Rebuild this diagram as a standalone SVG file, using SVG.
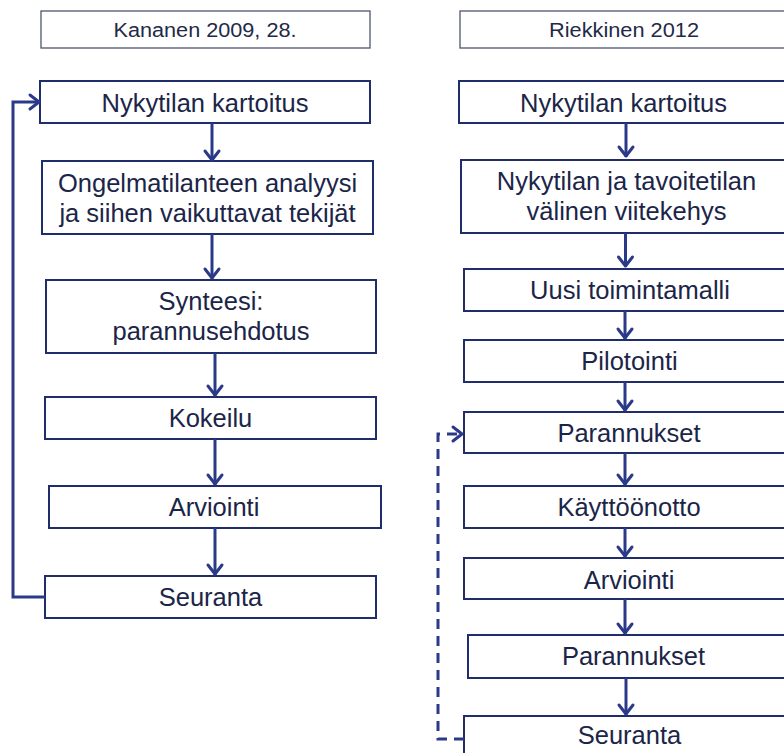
<svg xmlns="http://www.w3.org/2000/svg" width="784" height="753" viewBox="0 0 784 753">
  <style>
    .hdr rect { fill: #ffffff; stroke: #4d566b; stroke-width: 1.3; }
    .hdr text { font-family: "Liberation Sans", Arial, sans-serif; font-size: 20px; fill: #1f2a48; text-anchor: middle; }
    .node rect { fill: #ffffff; stroke: #1f2d6b; stroke-width: 2; }
    .node text { font-family: "Liberation Sans", Arial, sans-serif; font-size: 25.5px; fill: #1b2548; text-anchor: middle; }
    .flow { fill: none; stroke: #2b3a88; stroke-width: 3; }
    .loop { fill: none; stroke: #2b3a88; stroke-width: 3; }
    .dash { stroke-dasharray: 10 7; }
  </style>
  <defs>
    <marker id="chev" markerUnits="userSpaceOnUse" markerWidth="16" markerHeight="18" viewBox="-13 -9 16 18" refX="0" refY="0" orient="auto" overflow="visible">
      <path d="M-10,-7 L-1,0 L-10,7" fill="none" stroke="#2b3a88" stroke-width="3" stroke-linejoin="round" stroke-linecap="round"/>
    </marker>
  </defs>

  <rect width="784" height="753" fill="#ffffff"/>

  <!-- column headers -->
  <g id="hdr-left" class="hdr">
    <rect x="41" y="11" width="329" height="37"/>
    <text x="205" y="37" textLength="183" lengthAdjust="spacingAndGlyphs">Kananen 2009, 28.</text>
  </g>
  <g id="hdr-right" class="hdr">
    <rect x="460" y="11" width="330" height="37"/>
    <text x="624" y="37" textLength="150" lengthAdjust="spacingAndGlyphs">Riekkinen 2012</text>
  </g>

  <!-- left process -->
  <g id="l1" class="node">
    <rect x="40" y="81" width="330" height="42"/>
    <text x="205" y="111.5">Nykytilan kartoitus</text>
  </g>
  <g id="l2" class="node">
    <rect x="42" y="161" width="331" height="73"/>
    <text x="207.5" y="192">Ongelmatilanteen analyysi</text>
    <text x="207.5" y="221.5">ja siihen vaikuttavat tekijät</text>
  </g>
  <g id="l3" class="node">
    <rect x="46" y="280" width="330" height="73"/>
    <text x="211" y="310">Synteesi:</text>
    <text x="211" y="339.5">parannusehdotus</text>
  </g>
  <g id="l4" class="node">
    <rect x="45" y="397" width="331" height="42"/>
    <text x="210.5" y="427">Kokeilu</text>
  </g>
  <g id="l5" class="node">
    <rect x="49" y="486" width="332" height="42"/>
    <text x="214" y="516">Arviointi</text>
  </g>
  <g id="l6" class="node">
    <rect x="45" y="576" width="331" height="42"/>
    <text x="210.5" y="605.5">Seuranta</text>
  </g>

  <!-- right process -->
  <g id="r1" class="node">
    <rect x="459" y="81" width="329" height="42"/>
    <text x="623.5" y="111.5">Nykytilan kartoitus</text>
  </g>
  <g id="r2" class="node">
    <rect x="461" y="160" width="331" height="73"/>
    <text x="626.5" y="190">Nykytilan ja tavoitetilan</text>
    <text x="626.5" y="219.5">välinen viitekehys</text>
  </g>
  <g id="r3" class="node">
    <rect x="464" y="269" width="332" height="42"/>
    <text x="630" y="298.5">Uusi toimintamalli</text>
  </g>
  <g id="r4" class="node">
    <rect x="464" y="340" width="331" height="42"/>
    <text x="629.5" y="370">Pilotointi</text>
  </g>
  <g id="r5" class="node">
    <rect x="464" y="412" width="330" height="41"/>
    <text x="629" y="441.5">Parannukset</text>
  </g>
  <g id="r6" class="node">
    <rect x="464" y="486" width="330" height="42"/>
    <text x="629" y="515.5">Käyttöönotto</text>
  </g>
  <g id="r7" class="node">
    <rect x="464" y="558" width="330" height="41"/>
    <text x="629" y="588.5">Arviointi</text>
  </g>
  <g id="r8" class="node">
    <rect x="468" y="635" width="331" height="43"/>
    <text x="633.5" y="665">Parannukset</text>
  </g>
  <g id="r9" class="node">
    <rect x="464" y="716" width="331" height="42"/>
    <text x="629.5" y="744">Seuranta</text>
  </g>

  <!-- connectors -->
  <g id="connectors">
    <path class="flow" d="M212,123 V161" marker-end="url(#chev)"/>
    <path class="flow" d="M212,234 V279" marker-end="url(#chev)"/>
    <path class="flow" d="M215,353 V396" marker-end="url(#chev)"/>
    <path class="flow" d="M215,439 V485" marker-end="url(#chev)"/>
    <path class="flow" d="M215,528 V575" marker-end="url(#chev)"/>
    <path class="loop" d="M45,597 H13 V102 H40" marker-end="url(#chev)"/>

    <path class="flow" d="M626,123 V157" marker-end="url(#chev)"/>
    <path class="flow" d="M625.5,233 V267" marker-end="url(#chev)"/>
    <path class="flow" d="M625,311 V339" marker-end="url(#chev)"/>
    <path class="flow" d="M625,382 V411" marker-end="url(#chev)"/>
    <path class="flow" d="M625,453 V485" marker-end="url(#chev)"/>
    <path class="flow" d="M625,528 V557" marker-end="url(#chev)"/>
    <path class="flow" d="M625,599 V634" marker-end="url(#chev)"/>
    <path class="flow" d="M626,678 V715" marker-end="url(#chev)"/>
    <path class="loop dash" d="M464,739 H438 V434 H463" marker-end="url(#chev)"/>
  </g>
</svg>
